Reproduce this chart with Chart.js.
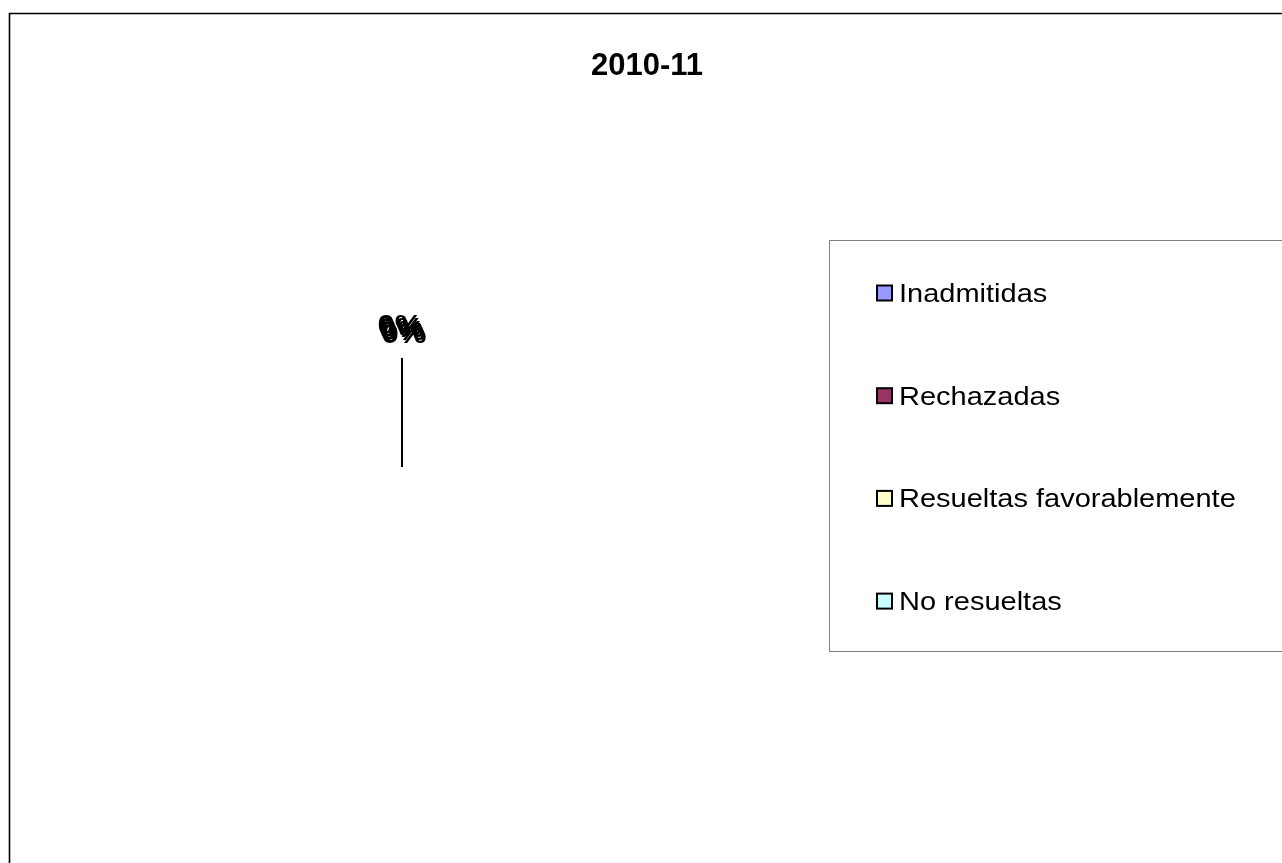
<!DOCTYPE html>
<html>
<head>
<meta charset="utf-8">
<script src="https://cdn.jsdelivr.net/npm/chart.js@4.4.1/dist/chart.umd.min.js"></script>
<style>
  html, body { margin: 0; padding: 0; background: #ffffff; }
  #wrap { width: 1282px; height: 863px; position: relative; }
</style>
</head>
<body>
<div id="wrap"><canvas id="c" width="1282" height="863"></canvas></div>
<script>
// ---- data ----
const chartTitle = '2010-11';
const categories = ['Inadmitidas', 'Rechazadas', 'Resueltas favorablemente', 'No resueltas'];
const values = [0, 0, 0, 0];
const sliceColors = ['#9999FF', '#993366', '#FFFFCC', '#CCFFFF'];

const FONT = '"Liberation Sans", Arial, Helvetica, sans-serif';

const decorPlugin = {
  id: 'decor',
  afterDraw(chart) {
    const ctx = chart.ctx;
    const W = chart.width, H = chart.height;
    ctx.save();

    // outer frame (chart area border, clipped on right/bottom)
    ctx.strokeStyle = '#000000';
    ctx.lineWidth = 1.6;
    ctx.beginPath();
    ctx.moveTo(9.5, H + 5);
    ctx.lineTo(9.5, 13.5);
    ctx.lineTo(W + 5, 13.5);
    ctx.stroke();

    // title
    ctx.fillStyle = '#000000';
    ctx.font = 'bold 31px ' + FONT;
    ctx.textAlign = 'center';
    ctx.textBaseline = 'alphabetic';
    ctx.fillText(chartTitle, 647, 74.5);

    // pie: zero-size slice edges and data labels, from the arc elements
    const meta = chart.getDatasetMeta(0);
    const ds = chart.data.datasets[0];
    const total = ds.data.reduce((a, b) => a + b, 0);
    ctx.strokeStyle = '#000000';
    ctx.lineWidth = 1.3;
    meta.data.forEach((el) => {
      const p = el.getProps(['x', 'y', 'startAngle', 'endAngle', 'outerRadius'], true);
      [p.startAngle, p.endAngle].forEach((a) => {
        ctx.beginPath();
        ctx.moveTo(p.x, p.y);
        ctx.lineTo(p.x + p.outerRadius * Math.cos(a), p.y + p.outerRadius * Math.sin(a));
        ctx.stroke();
      });
    });
    meta.data.forEach((el, i) => {
      const p = el.getProps(['x', 'y', 'startAngle', 'endAngle', 'outerRadius'], true);
      const mid = (p.startAngle + p.endAngle) / 2;
      const r = p.outerRadius + 24;
      const pct = total ? Math.round(ds.data[i] / total * 100) : 0;
      const lx = p.x + r * Math.cos(mid) + (i - 1.5) * 1.3;
      const ly = p.y + r * Math.sin(mid) + i * 3;
      ctx.save();
      ctx.translate(lx, ly);
      ctx.scale(1.115, 1);
      ctx.font = 'bold 28px ' + FONT;
      ctx.textAlign = 'center';
      ctx.textBaseline = 'alphabetic';
      ctx.fillStyle = '#000000';
      ctx.fillText(pct + '%', 0, 0);
      ctx.restore();
    });

    // legend
    ctx.strokeStyle = '#808080';
    ctx.lineWidth = 1;
    ctx.strokeRect(829.5, 240.5, W, 411);
    const itemTop = 293, step = 102.7;
    chart.data.labels.forEach((lab, i) => {
      const cy = itemTop + i * step;
      ctx.fillStyle = ds.backgroundColor[i];
      ctx.fillRect(877, cy - 7.5, 15, 15);
      ctx.strokeStyle = '#000000';
      ctx.lineWidth = 2;
      ctx.strokeRect(877, cy - 7.5, 15, 15);
      ctx.save();
      ctx.translate(899, cy + 9);
      ctx.scale(1.115, 1);
      ctx.fillStyle = '#000000';
      ctx.font = '26px ' + FONT;
      ctx.textAlign = 'left';
      ctx.textBaseline = 'alphabetic';
      ctx.fillText(lab, 0, 0);
      ctx.restore();
    });

    ctx.restore();
  }
};

new Chart(document.getElementById('c'), {
  type: 'pie',
  data: {
    labels: categories,
    datasets: [{
      data: values,
      backgroundColor: sliceColors,
      borderColor: '#000000',
      borderWidth: 1,
      radius: 109
    }]
  },
  options: {
    responsive: false,
    animation: false,
    devicePixelRatio: 1,
    layout: { padding: { top: 358, bottom: 287, left: 0, right: 478 } },
    plugins: {
      legend: { display: false },
      title: { display: false },
      tooltip: { enabled: false }
    }
  },
  plugins: [decorPlugin]
});
</script>
</body>
</html>
